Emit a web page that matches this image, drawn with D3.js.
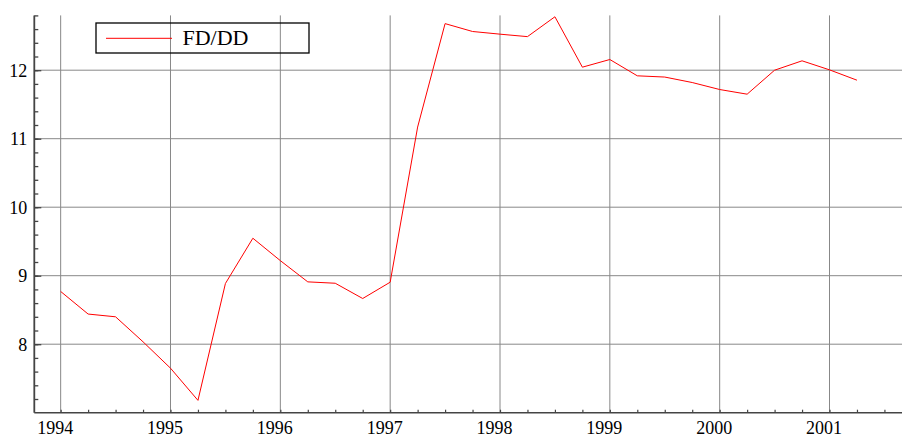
<!DOCTYPE html>
<html>
<head>
<meta charset="utf-8">
<script src="https://cdn.jsdelivr.net/npm/d3@7"></script>
<style>
  body { margin: 0; background: #fff; }
  svg { display: block; }
</style>
</head>
<body>
<div id="chart"></div>
<script>
// quarterly observations
const quarters = [
  1994.0, 1994.25, 1994.5, 1994.75,
  1995.0, 1995.25, 1995.5, 1995.75,
  1996.0, 1996.25, 1996.5, 1996.75,
  1997.0, 1997.25, 1997.5, 1997.75,
  1998.0, 1998.25, 1998.5, 1998.75,
  1999.0, 1999.25, 1999.5, 1999.75,
  2000.0, 2000.25, 2000.5, 2000.75,
  2001.0, 2001.25
]
const fddd = [
  8.77, 8.44, 8.40, 8.035,
  7.65, 7.18, 8.886, 9.547,
  9.22, 8.91, 8.89, 8.667,
  8.905, 11.17, 12.68, 12.565,
  12.526, 12.49, 12.78, 12.044,
  12.156, 11.918, 11.90, 11.82,
  11.718, 11.65, 12.0, 12.137,
  12.005, 11.854
]
const yearTicks = [1994, 1995, 1996, 1997, 1998, 1999, 2000, 2001]
const valueTicks = [8, 9, 10, 11, 12]
const seriesName = 'FD/DD'

const width = 902
const height = 435
const serif = '"Liberation Serif", "Times New Roman", serif'

const x = d3.scaleLinear()
    .domain([1993.76, 2001.66])
    .range([34.3, 902])

const y = d3.scaleLinear()
    .domain([7, 12.8])
    .range([412.7, 15.4])

const svg = d3.select('#chart').append('svg')
    .attr('width', width)
    .attr('height', height)

// grid
svg.append('g').attr('class', 'grid')
  .selectAll('line')
    .data(yearTicks)
  .enter().append('line')
    .attr('x1', d => x(d)).attr('x2', d => x(d))
    .attr('y1', y(12.8)).attr('y2', y(7))
    .attr('stroke', '#888')
    .attr('stroke-width', 1)

svg.append('g').attr('class', 'grid')
  .selectAll('line')
    .data(valueTicks)
  .enter().append('line')
    .attr('x1', x.range()[0]).attr('x2', width)
    .attr('y1', d => y(d)).attr('y2', d => y(d))
    .attr('stroke', '#888')
    .attr('stroke-width', 1)

// minor ticks (inward)
const minorY = d3.range(36, 65).map(d => d / 5)
const minorX = d3.range(1994 * 4, 2001.66 * 4).map(d => d / 4)

const yAxis = d3.axisRight(y)
    .tickValues(minorY)
    .tickSize(4)
    .tickFormat('')
const yAxisMajor = d3.axisRight(y)
    .tickValues(valueTicks)
    .tickSize(7)
    .tickFormat('')

const ga = svg.append('g')
    .attr('transform', 'translate(' + x.range()[0] + ',0)')
ga.call(yAxis)
ga.append('g').call(yAxisMajor)
ga.selectAll('.domain').remove()
ga.selectAll('line').attr('stroke', '#444').attr('stroke-width', 1.3)

const xAxis = d3.axisTop(x)
    .tickValues(minorX)
    .tickSize(3)
    .tickFormat('')
const gx = svg.append('g')
    .attr('transform', 'translate(0,' + y(7) + ')')
    .call(xAxis)
gx.selectAll('.domain').remove()
gx.selectAll('line').attr('stroke', '#444').attr('stroke-width', 1.2)

// axis lines
svg.append('line')
    .attr('x1', x.range()[0]).attr('x2', x.range()[0])
    .attr('y1', y(12.8)).attr('y2', y(7))
    .attr('stroke', '#444').attr('stroke-width', 1.8)
svg.append('line')
    .attr('x1', x.range()[0]).attr('x2', width)
    .attr('y1', y(7)).attr('y2', y(7))
    .attr('stroke', '#444').attr('stroke-width', 1.4)

// tick labels
svg.append('g')
  .selectAll('text')
    .data(valueTicks)
  .enter().append('text')
    .attr('x', x.range()[0] - 7)
    .attr('y', d => y(d))
    .attr('dy', '0.36em')
    .attr('text-anchor', 'end')
    .attr('font-family', serif)
    .attr('font-size', 18)
    .attr('fill', '#000')
    .text(d => d)

svg.append('g')
  .selectAll('text')
    .data(yearTicks)
  .enter().append('text')
    .attr('x', d => x(d) - 5.5)
    .attr('y', 433.5)
    .attr('text-anchor', 'middle')
    .attr('font-family', serif)
    .attr('font-size', 18)
    .attr('fill', '#000')
    .text(d => d)

// series
const line = d3.line()
    .x((d, i) => x(quarters[i]))
    .y(d => y(d))

svg.append('path')
    .datum(fddd)
    .attr('fill', 'none')
    .attr('stroke', '#ff0000')
    .attr('stroke-width', 1)
    .attr('d', line)

// legend
const lg = svg.append('g')
lg.append('rect')
    .attr('x', 96).attr('y', 23)
    .attr('width', 213).attr('height', 30)
    .attr('fill', 'none')
    .attr('stroke', '#000')
    .attr('stroke-width', 1.3)
lg.append('line')
    .attr('x1', 106).attr('x2', 172)
    .attr('y1', 38.3).attr('y2', 38.3)
    .attr('stroke', '#ff0000')
    .attr('stroke-width', 1)
lg.append('text')
    .attr('x', 182.5)
    .attr('y', 45)
    .attr('font-family', serif)
    .attr('font-size', 22)
    .attr('fill', '#000')
    .text(seriesName)
</script>
</body>
</html>
